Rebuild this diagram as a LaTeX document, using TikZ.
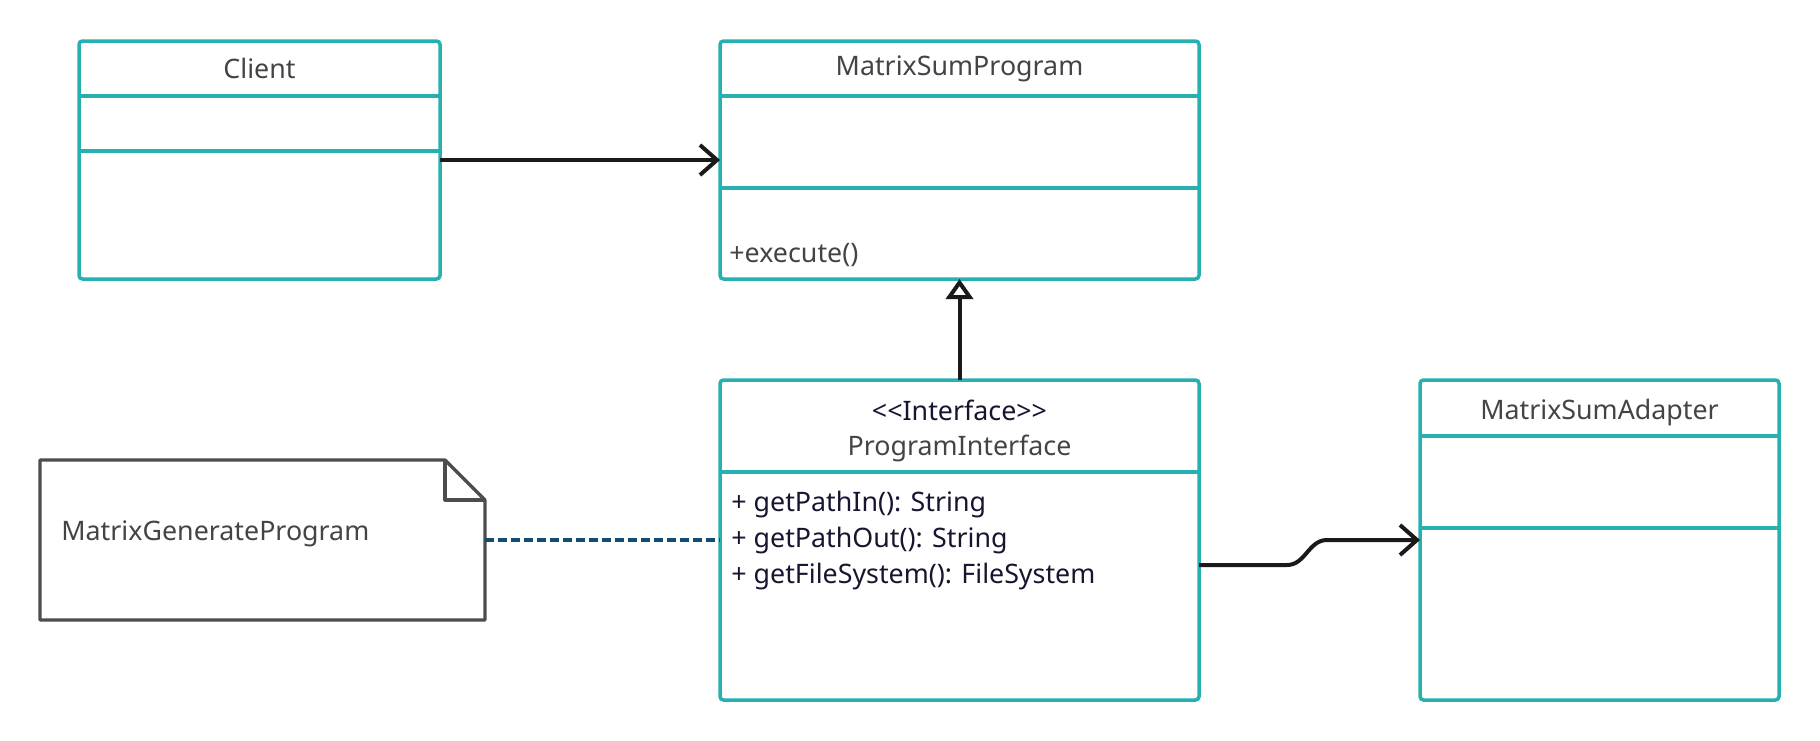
\documentclass[tikz,border=0pt]{standalone}
\usepackage{fontspec}
\setmainfont{Noto Sans}
\usepackage{tikz}
\usetikzlibrary{arrows.meta,positioning,calc}
\definecolor{umlteal}{RGB}{38,176,175}
\definecolor{titlegray}{RGB}{68,68,68}
\definecolor{memberink}{RGB}{22,22,48}
\definecolor{notegray}{RGB}{77,77,77}
\definecolor{linkblue}{RGB}{16,76,115}
\definecolor{arrowink}{RGB}{26,26,26}
\newcommand{\umlsize}{\fontsize{13.4pt}{18pt}\selectfont}
\tikzstyle{classbox} = [draw=umlteal, line width=1.75pt, rectangle, rounded corners=1.75pt, outer sep=0pt, inner sep=0pt]
\tikzstyle{divider} = [draw=umlteal, line width=1.75pt]
\tikzstyle{titletext} = [text=titlegray, font=\umlsize, inner sep=0pt]
\tikzstyle{membertext} = [text=memberink, font=\umlsize, inner sep=0pt, align=left]
\tikzstyle{notebox} = [rectangle, outer sep=0pt, inner sep=0pt]
\tikzstyle{notepath} = [draw=notegray, line width=1.6pt, line join=round]
\tikzstyle{assoc} = [draw=arrowink, line width=2pt, -{Straight Barb[length=8.5pt,width=15pt]}]
\tikzstyle{inherit} = [draw=arrowink, line width=2pt, -{Triangle[open,length=10pt,width=13.5pt]}]
\tikzstyle{dashlink} = [draw=linkblue, line width=1.75pt, dash pattern=on 4.5pt off 2pt]
\begin{document}
\begin{tikzpicture}[x=0.5pt,y=-0.5pt]
\useasboundingbox (0,0) rectangle (1820,740);
% classes
\node[classbox, minimum width=180.5pt, minimum height=119pt] (client) at (259.5,160) {};
\node[classbox, minimum width=239.5pt, minimum height=119pt] (sumprogram) at (959.5,160) {};
\node[classbox, minimum width=239.5pt, minimum height=160pt] (proginterface) at (959.5,540) {};
\node[classbox, minimum width=179.5pt, minimum height=160pt] (sumadapter) at (1599.5,540) {};
\node[notebox, minimum width=222.5pt, minimum height=80pt] (genprogram) at (262.5,540) {};

\draw[divider] ([yshift=-27.5pt]client.north west) -- ([yshift=-27.5pt]client.north east);
\draw[divider] ([yshift=-55pt]client.north west) -- ([yshift=-55pt]client.north east);
\draw[divider] ([yshift=-27.5pt]sumprogram.north west) -- ([yshift=-27.5pt]sumprogram.north east);
\draw[divider] ([yshift=-73.5pt]sumprogram.north west) -- ([yshift=-73.5pt]sumprogram.north east);
\draw[divider] ([yshift=-46pt]proginterface.north west) -- ([yshift=-46pt]proginterface.north east);
\draw[divider] ([yshift=-28pt]sumadapter.north west) -- ([yshift=-28pt]sumadapter.north east);
\draw[divider] ([yshift=-74pt]sumadapter.north west) -- ([yshift=-74pt]sumadapter.north east);

% note with folded corner
\draw[notepath] (genprogram.south west) -- (genprogram.north west) -- ([xshift=-20pt]genprogram.north east)
  -- ([yshift=-20pt]genprogram.north east) -- (genprogram.south east) -- cycle;
\draw[notepath] ([xshift=-20pt]genprogram.north east) -- ([xshift=-20pt,yshift=-20pt]genprogram.north east)
  -- ([yshift=-20pt]genprogram.north east);

% texts
\node[titletext] (client-title) at ([yshift=-13.5pt]client.north) {Client};
\node[titletext] (sumprogram-title) at ([yshift=-13.75pt]sumprogram.north) {MatrixSumProgram};
\node[titletext, anchor=west] (sumprogram-op) at ([xshift=4.5pt,yshift=11.75pt]sumprogram.south west) {+execute()};
\node[membertext] (proginterface-stereo) at ([yshift=-15pt]proginterface.north) {<\kern0pt<Interface>\kern0pt>};
\node[titletext] (proginterface-title) at ([yshift=-34.25pt]proginterface.north) {ProgramInterface};
\node[membertext, anchor=west] (proginterface-ops) at ([xshift=5.5pt,yshift=-0.25pt]proginterface.west)
  {+ getPathIn(): String\\+ getPathOut(): String\\+ getFileSystem(): FileSystem};
\node[titletext] (sumadapter-title) at ([yshift=-16.5pt]sumadapter.north) {MatrixSumAdapter};
\node[titletext, anchor=west] (genprogram-text) at ([xshift=10.5pt,yshift=3.2pt]genprogram.west) {MatrixGenerateProgram};

% relations
\draw[assoc] (client) -- (sumprogram);
\draw[inherit] (proginterface) -- (sumprogram);
\draw[assoc] ([yshift=-12.5pt]proginterface.east) -- ++(44pt,0) to[out=0,in=180] ++(20pt,12.5pt) -- (sumadapter.west);
\draw[dashlink] (genprogram.east) -- (proginterface.west);
\end{tikzpicture}
\end{document}
